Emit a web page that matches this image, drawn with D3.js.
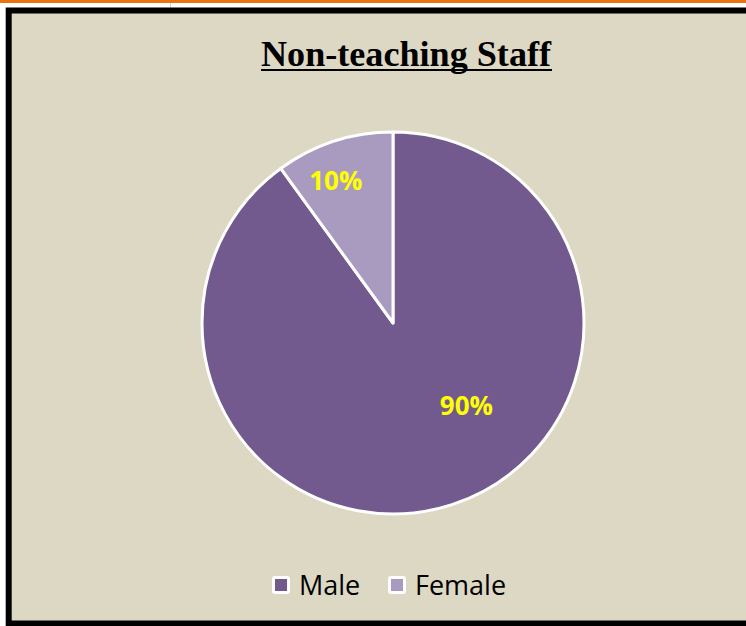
<!DOCTYPE html>
<html>
<head>
<meta charset="utf-8">
<script src="https://cdn.jsdelivr.net/npm/d3@7"></script>
<style>
  body { margin: 0; background: #fff; }
  svg { display: block; }
</style>
</head>
<body>
<svg id="chart" width="746" height="626"></svg>
<script>
const categories = ["Male", "Female"];
const values = [90, 10];
const labels = ["90%", "10%"];
const colors = ["#725A8F", "#A99BC0"];

const svg = d3.select("#chart");
const width = +svg.attr("width");

// top orange strip and spreadsheet cell edge
svg.append("rect").attr("x", 0).attr("y", 0).attr("width", width).attr("height", 3).attr("fill", "#E8730F");
svg.append("line").attr("x1", 170.5).attr("x2", 170.5).attr("y1", 3).attr("y2", 8).attr("stroke", "#cfcfcf");

// chart frame
svg.append("rect")
  .attr("x", 8.7).attr("y", 10.5)
  .attr("width", 760).attr("height", 613)
  .attr("fill", "#DDD8C3")
  .attr("stroke", "#000")
  .attr("stroke-width", 6);

// title (underline drawn by hand, it sits lower than the browser one)
const title = svg.append("text")
  .attr("x", 406).attr("y", 66)
  .attr("text-anchor", "middle")
  .attr("textLength", 290)
  .attr("lengthAdjust", "spacingAndGlyphs")
  .style("font-family", "'Liberation Serif', 'DejaVu Serif', serif")
  .style("font-weight", "bold")
  .style("font-size", "36px")
  .attr("fill", "#000")
  .text("Non-teaching Staff");

svg.append("line")
  .attr("x1", 261).attr("x2", 552)
  .attr("y1", 70).attr("y2", 70)
  .attr("stroke", "#000")
  .attr("stroke-width", 2);

const cx = 393, cy = 323, radius = 191;

const pie = d3.pie().sort(null).value(d => d);
const arcs = pie(values);
const arc = d3.arc().innerRadius(0).outerRadius(radius);

const g = svg.append("g").attr("transform", `translate(${cx},${cy})`);

g.selectAll("path")
  .data(arcs)
  .enter()
  .append("path")
  .attr("d", arc)
  .attr("fill", (d, i) => colors[i])
  .attr("stroke", "#fff")
  .attr("stroke-width", 3)
  .attr("stroke-linejoin", "round");

// label placement (fraction of radius, angle shift in degrees) like Excel best fit
const labelRadius = [0.58, 0.8];
const labelShift = [-23.5, -4];

g.selectAll(".lbl")
  .data(arcs)
  .enter()
  .append("text")
  .attr("class", "lbl")
  .attr("transform", (d, i) => {
    const a = (d.startAngle + d.endAngle) / 2 + labelShift[i] * Math.PI / 180;
    const r = radius * labelRadius[i];
    return `translate(${r * Math.sin(a)},${-r * Math.cos(a)})`;
  })
  .attr("text-anchor", "middle")
  .attr("dy", "0.35em")
  .style("font-family", "'Open Sans', sans-serif")
  .style("font-weight", "bold")
  .style("font-size", "26px")
  .attr("fill", "#FFFF00")
  .text((d, i) => labels[i]);

// legend
const legendX = [272, 388];
const legend = svg.append("g");
const item = legend.selectAll("g")
  .data(categories)
  .enter()
  .append("g")
  .attr("transform", (d, i) => `translate(${legendX[i]},576)`);

item.append("rect")
  .attr("x", 1.5).attr("y", 1.5)
  .attr("width", 15).attr("height", 15)
  .attr("rx", 1.5)
  .attr("fill", (d, i) => colors[i])
  .attr("stroke", "#fff")
  .attr("stroke-width", 3);

item.append("text")
  .attr("x", 27).attr("y", 18.5)
  .style("font-family", "'Open Sans', sans-serif")
  .style("font-size", "27px")
  .attr("fill", "#000")
  .text(d => d);
</script>
</body>
</html>
